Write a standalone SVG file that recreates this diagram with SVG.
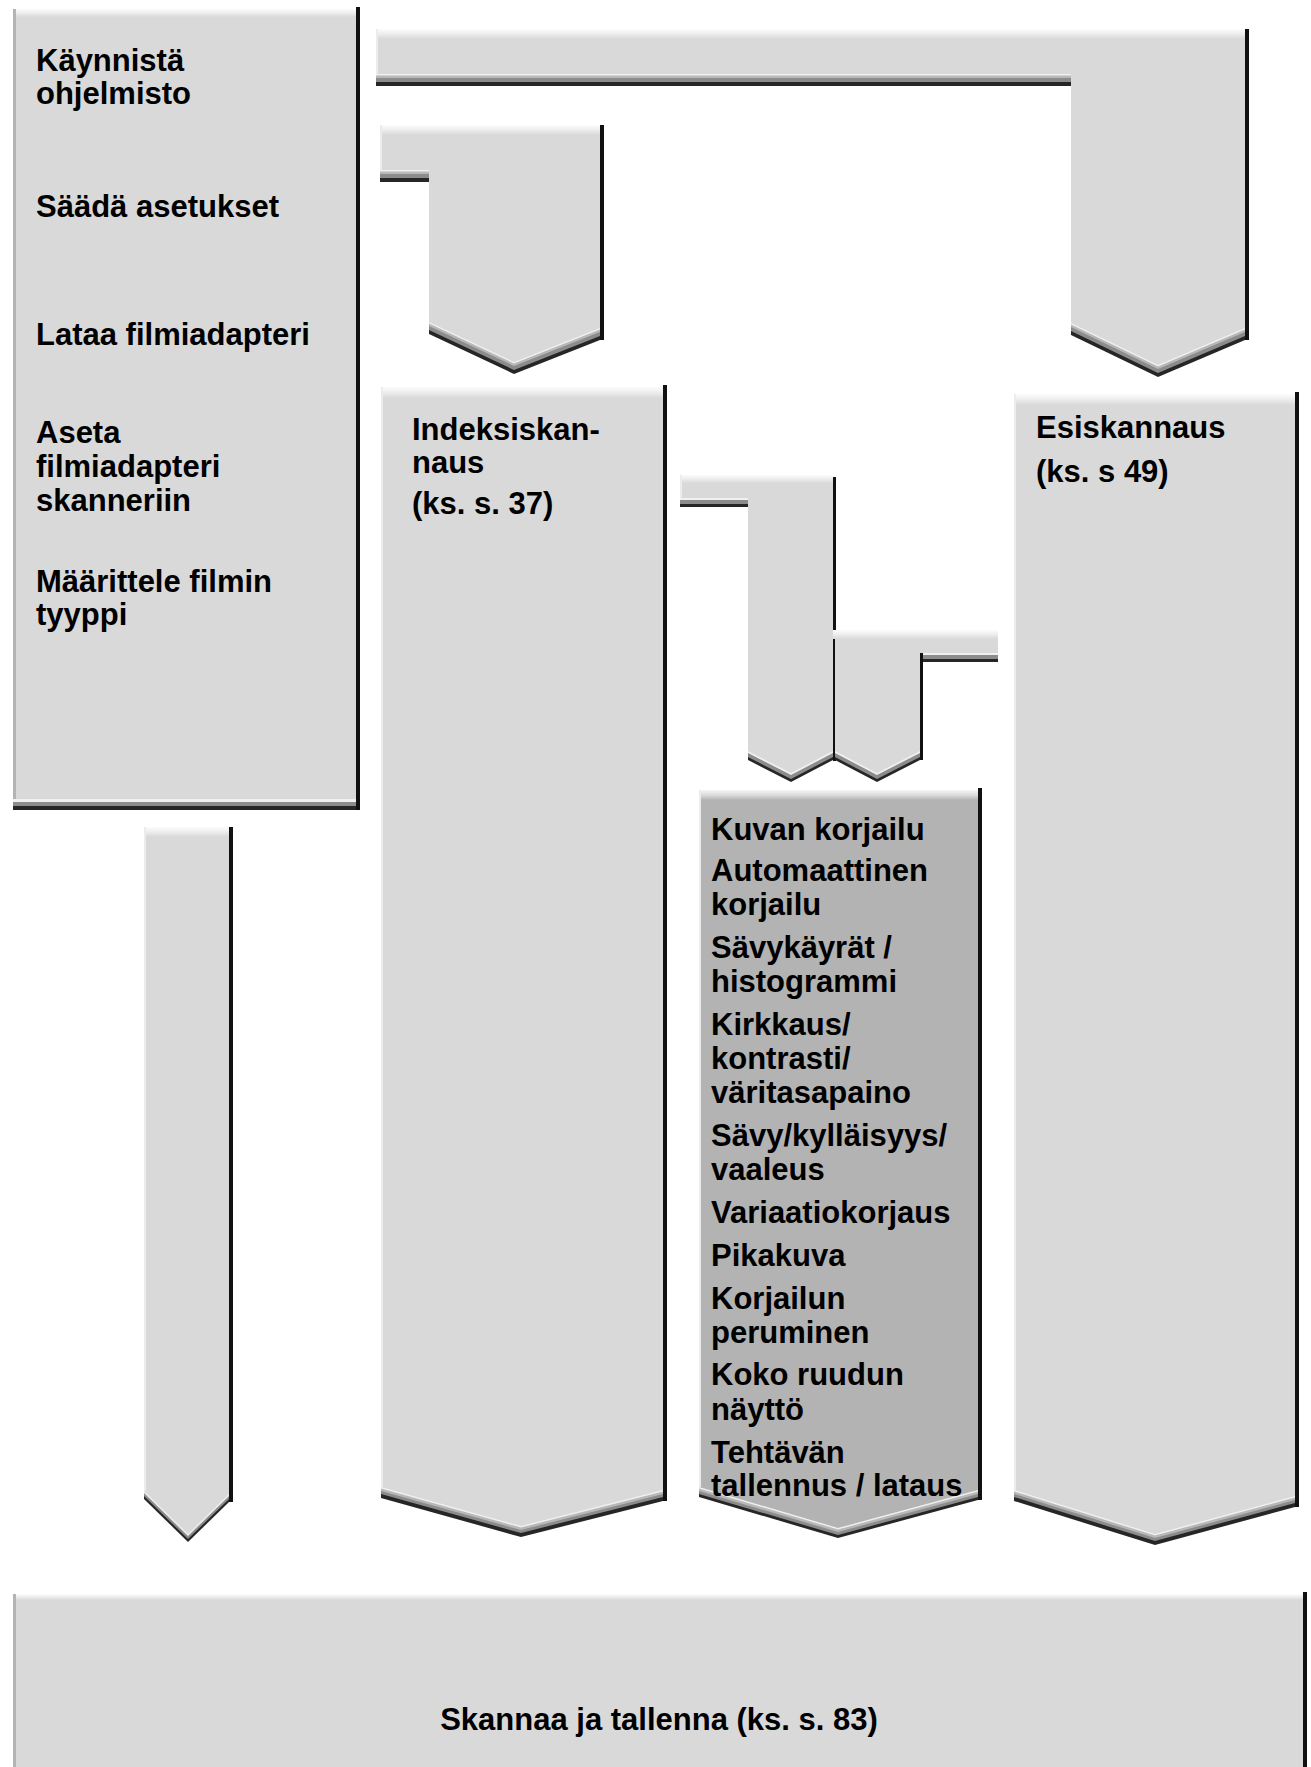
<svg xmlns="http://www.w3.org/2000/svg" xmlns:xlink="http://www.w3.org/1999/xlink" width="1311" height="1767" viewBox="0 0 1311 1767">
<style>
  .fill { fill: #d9d9d9; }
  .fill2 { fill: #b3b3b3; }
  .sh1 { fill: #262626; }
  .sh2 { fill: #8c8c8c; }
  .sh3 { fill: #b8b8b8; }
  .sh4 { fill: #f0f0f0; }
  .edge { fill: #111111; }
  .ledge { fill: #ececec; }
  .gedge { fill: #b4b4b4; }
  .hl { fill: url(#hl); }
  .hl2 { fill: url(#hl2); }
  text { font-family: "Liberation Sans", Arial, sans-serif; font-weight: bold; font-size: 31px; fill: #000; }
</style>
<defs>
  <linearGradient id="hl" x1="0" y1="0" x2="0" y2="1">
    <stop offset="0" stop-color="#fcfcfc"/>
    <stop offset="0.5" stop-color="#ededed"/>
    <stop offset="1" stop-color="#d9d9d9"/>
  </linearGradient>
  <linearGradient id="hl2" x1="0" y1="0" x2="0" y2="1">
    <stop offset="0" stop-color="#f4f4f4"/>
    <stop offset="0.5" stop-color="#dcdcdc"/>
    <stop offset="1" stop-color="#b3b3b3"/>
  </linearGradient>
  <polygon id="pLeft" points="13,9 356,9 356,799 13,799"/>
  <polygon id="pSmall" points="144,827 229,827 229,1494 188,1534 144,1491"/>
  <polygon id="pTop" points="376,29 1245,29 1245,328 1158,365 1071,323 1071,74 376,74"/>
  <polygon id="pSaada" points="380,125 600,125 600,328 514,362 429,322 429,170 380,170"/>
  <polygon id="pIdx" points="381,387 663,387 663,1490 521,1526 381,1487"/>
  <polygon id="pEsi" points="1014,394 1295,394 1295,1496 1155,1534 1014,1490"/>
  <polygon id="pKuv" points="699,790 978,790 978,1490 838,1528 699,1487"/>
  <polygon id="pA" points="680,475 833,475 833,751 791,773 748,751 748,498 680,498"/>
  <polygon id="pB" points="835,632 998,632 998,653 920,653 920,751 877,773 835,751"/>
</defs>

<!-- Node: left step box -->
<g id="node-steps">
  <use href="#pLeft" class="sh1" transform="translate(0,11)"/>
  <use href="#pLeft" class="sh2" transform="translate(0,7)"/>
  <use href="#pLeft" class="sh4" transform="translate(0,3)"/>
  <use href="#pLeft" class="fill"/>
  <rect class="hl" x="13" y="9" width="343" height="8"/>
  <rect class="gedge" x="13" y="9" width="3" height="790"/>
  <rect class="edge" x="356" y="7" width="4" height="803"/>
  <text x="36" y="71">Käynnistä</text>
  <text x="36" y="104">ohjelmisto</text>
  <text x="36" y="217">Säädä asetukset</text>
  <text x="36" y="345">Lataa filmiadapteri</text>
  <text x="36" y="443">Aseta</text>
  <text x="36" y="477">filmiadapteri</text>
  <text x="36" y="511">skanneriin</text>
  <text x="36" y="592">Määrittele filmin</text>
  <text x="36" y="625">tyyppi</text>
</g>

<!-- Connectors -->
<g id="connectors">
  <g id="conn-top">
    <use href="#pTop" class="sh1" transform="translate(0,12)"/>
    <use href="#pTop" class="sh2" transform="translate(0,8)"/>
    <use href="#pTop" class="sh3" transform="translate(0,4)"/>
    <use href="#pTop" class="sh4" transform="translate(0,1.5)"/>
    <use href="#pTop" class="fill"/>
    <rect class="hl" x="376" y="29" width="869" height="10"/>
    <rect class="ledge" x="376" y="29" width="2" height="45"/>
    <rect class="edge" x="1245" y="29" width="4" height="311"/>
  </g>
  <g id="conn-saada">
    <use href="#pSaada" class="sh1" transform="translate(0,12)"/>
    <use href="#pSaada" class="sh2" transform="translate(0,8)"/>
    <use href="#pSaada" class="sh3" transform="translate(0,4)"/>
    <use href="#pSaada" class="sh4" transform="translate(0,1.5)"/>
    <use href="#pSaada" class="fill"/>
    <rect class="hl" x="380" y="125" width="220" height="10"/>
    <rect class="ledge" x="380" y="125" width="2" height="45"/>
    <rect class="edge" x="600" y="125" width="4" height="215"/>
  </g>
  <g id="conn-small">
    <use href="#pSmall" class="sh1" transform="translate(0,8)"/>
    <use href="#pSmall" class="sh2" transform="translate(0,5)"/>
    <use href="#pSmall" class="sh4" transform="translate(0,2)"/>
    <use href="#pSmall" class="fill"/>
    <rect class="hl" x="144" y="827" width="85" height="10"/>
    <rect class="ledge" x="144" y="827" width="2" height="664"/>
    <rect class="edge" x="229" y="827" width="4" height="675"/>
  </g>
  <g id="conn-a">
    <use href="#pA" class="sh1" transform="translate(0,9)"/>
    <use href="#pA" class="sh2" transform="translate(0,6)"/>
    <use href="#pA" class="sh4" transform="translate(0,2)"/>
    <use href="#pA" class="fill"/>
    <rect class="hl" x="680" y="475" width="153" height="8"/>
    <rect class="ledge" x="680" y="475" width="2" height="23"/>
    <rect class="edge" x="833" y="477" width="3" height="284"/>
  </g>
  <g id="conn-b">
    <use href="#pB" class="sh1" transform="translate(0,9)"/>
    <use href="#pB" class="sh2" transform="translate(0,6)"/>
    <use href="#pB" class="sh4" transform="translate(0,2)"/>
    <use href="#pB" class="fill"/>
    <rect class="hl" x="833" y="630" width="165" height="9"/>
    <rect class="edge" x="920" y="653" width="3" height="107"/>
  </g>
</g>

<!-- Node: Indeksiskannaus -->
<g id="node-indeksi">
  <use href="#pIdx" class="sh1" transform="translate(0,11)"/>
  <use href="#pIdx" class="sh2" transform="translate(0,7)"/>
  <use href="#pIdx" class="sh3" transform="translate(0,4)"/>
  <use href="#pIdx" class="sh4" transform="translate(0,1.5)"/>
  <use href="#pIdx" class="fill"/>
  <rect class="hl" x="381" y="387" width="282" height="11"/>
  <rect class="ledge" x="381" y="387" width="2" height="1100"/>
  <rect class="edge" x="663" y="385" width="4" height="1116"/>
  <text x="412" y="440">Indeksiskan-</text>
  <text x="412" y="473">naus</text>
  <text x="412" y="514">(ks. s. 37)</text>
</g>

<!-- Node: Esiskannaus -->
<g id="node-esiskannaus">
  <use href="#pEsi" class="sh1" transform="translate(0,11)"/>
  <use href="#pEsi" class="sh2" transform="translate(0,7)"/>
  <use href="#pEsi" class="sh3" transform="translate(0,4)"/>
  <use href="#pEsi" class="sh4" transform="translate(0,1.5)"/>
  <use href="#pEsi" class="fill"/>
  <rect class="hl" x="1014" y="394" width="281" height="11"/>
  <rect class="ledge" x="1014" y="394" width="2" height="1096"/>
  <rect class="edge" x="1295" y="392" width="4" height="1115"/>
  <text x="1036" y="438">Esiskannaus</text>
  <text x="1036" y="482">(ks. s 49)</text>
</g>

<!-- Node: Kuvan korjailu -->
<g id="node-kuvan">
  <use href="#pKuv" class="sh1" transform="translate(0,10)"/>
  <use href="#pKuv" class="sh2" transform="translate(0,7)"/>
  <use href="#pKuv" class="sh3" transform="translate(0,4)"/>
  <use href="#pKuv" class="sh4" transform="translate(0,1.5)"/>
  <use href="#pKuv" class="fill2"/>
  <rect class="hl2" x="699" y="790" width="279" height="10"/>
  <rect class="ledge" x="699" y="790" width="2" height="697"/>
  <rect class="edge" x="978" y="788" width="4" height="712"/>
  <text x="711" y="840">Kuvan korjailu</text>
  <text x="711" y="881">Automaattinen</text>
  <text x="711" y="915">korjailu</text>
  <text x="711" y="958">Sävykäyrät /</text>
  <text x="711" y="992">histogrammi</text>
  <text x="711" y="1035">Kirkkaus/</text>
  <text x="711" y="1069">kontrasti/</text>
  <text x="711" y="1103">väritasapaino</text>
  <text x="711" y="1146">Sävy/kylläisyys/</text>
  <text x="711" y="1180">vaaleus</text>
  <text x="711" y="1223">Variaatiokorjaus</text>
  <text x="711" y="1266">Pikakuva</text>
  <text x="711" y="1309">Korjailun</text>
  <text x="711" y="1343">peruminen</text>
  <text x="711" y="1385">Koko ruudun</text>
  <text x="711" y="1420">näyttö</text>
  <text x="711" y="1463">Tehtävän</text>
  <text x="711" y="1496">tallennus / lataus</text>
</g>

<!-- Node: Skannaa ja tallenna -->
<g id="node-skannaa">
  <rect class="fill" x="13" y="1594" width="1290" height="173"/>
  <rect class="hl" x="13" y="1594" width="1290" height="6"/>
  <rect class="gedge" x="13" y="1594" width="3" height="173"/>
  <rect class="edge" x="1303" y="1592" width="4" height="175"/>
  <text x="659" y="1730" text-anchor="middle">Skannaa ja tallenna (ks. s. 83)</text>
</g>
</svg>
